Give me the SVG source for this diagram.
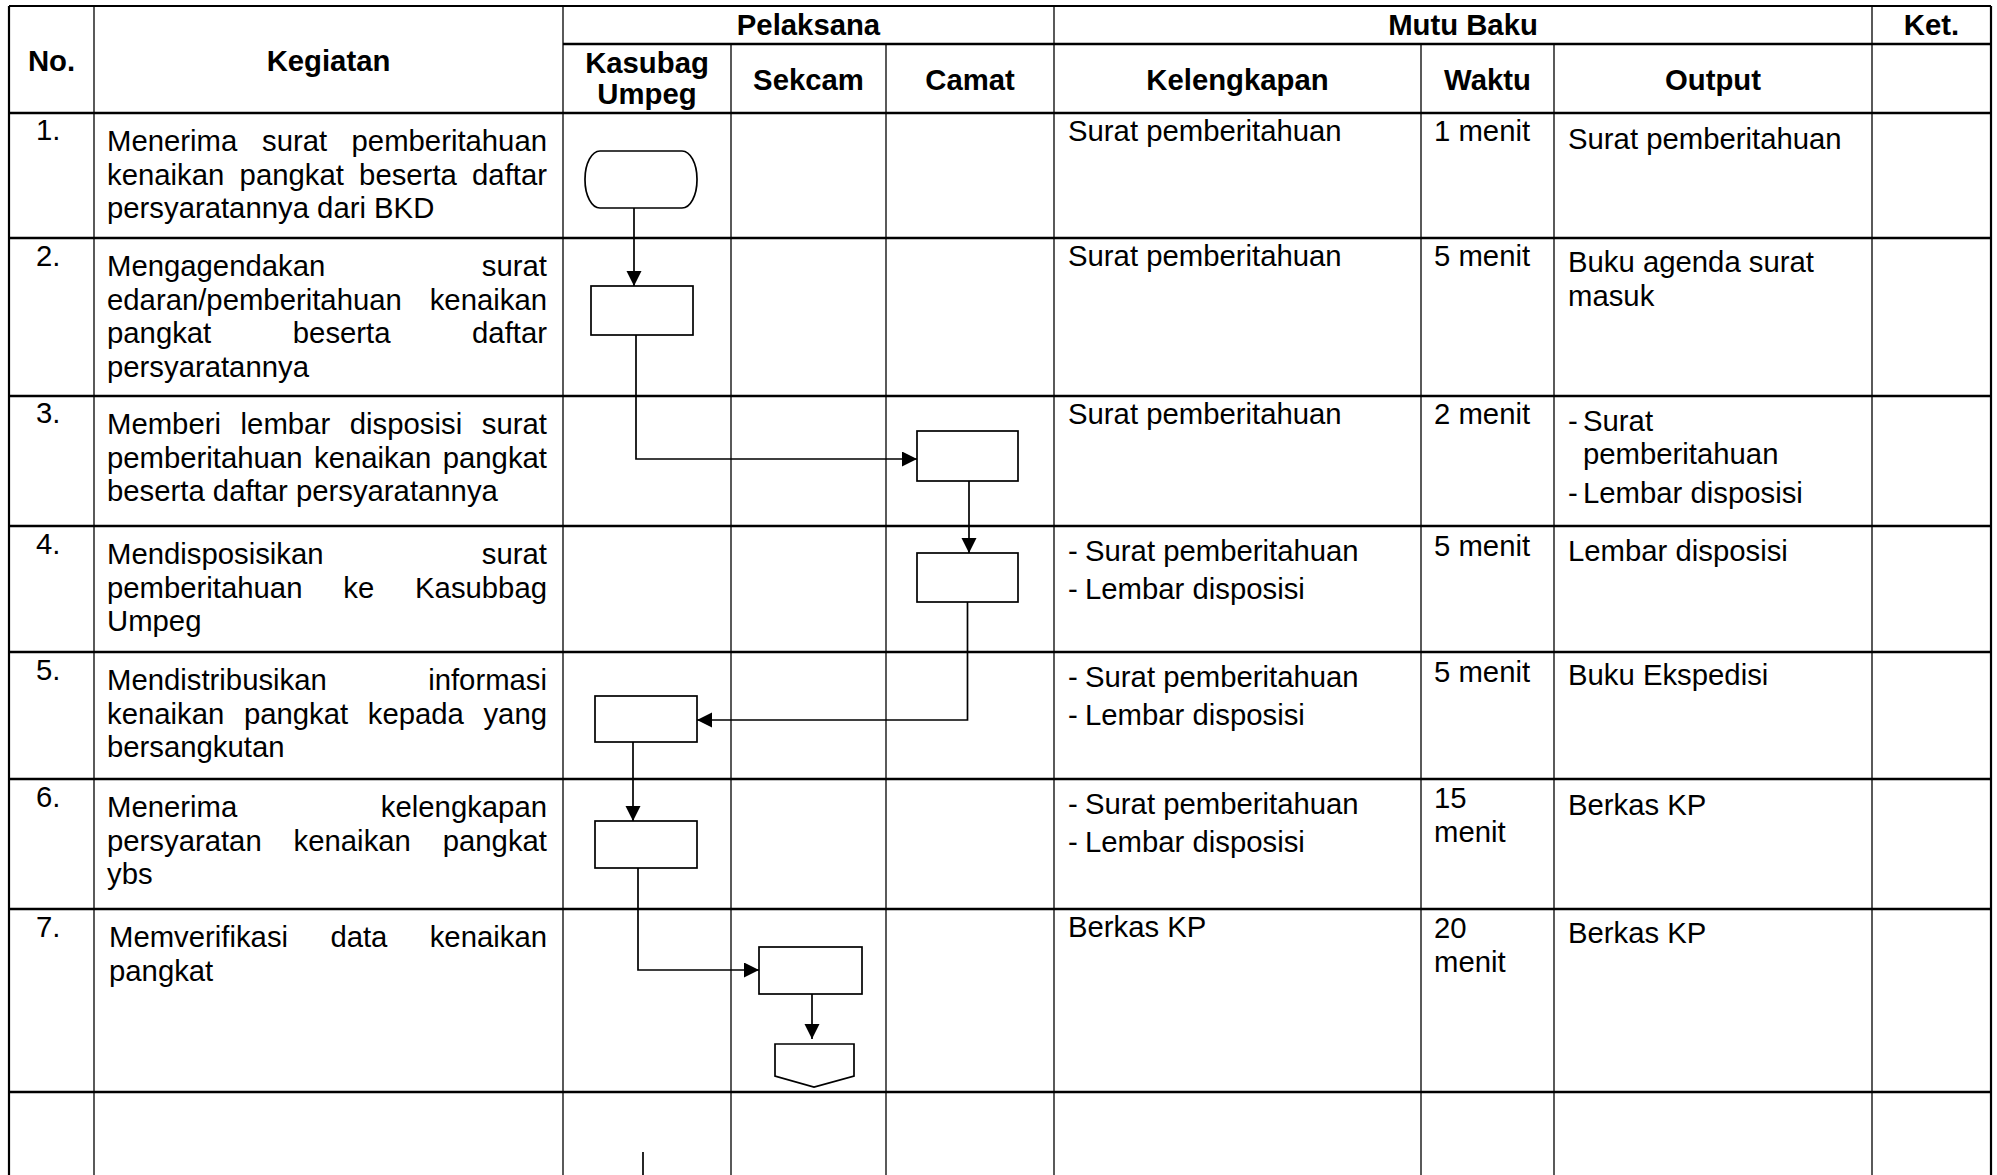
<svg xmlns="http://www.w3.org/2000/svg" width="1997" height="1175" viewBox="0 0 1997 1175">
<style>
.t{font-family:"Liberation Sans",Arial,sans-serif;font-size:29.3px;fill:#000}
.h{font-family:"Liberation Sans",Arial,sans-serif;font-size:29.3px;font-weight:bold;fill:#000;text-anchor:middle}
.gh{stroke:#000;stroke-width:2.6;fill:none}
.gv{stroke:#000;stroke-width:1.3;fill:none}
.go{stroke:#000;stroke-width:2.2;fill:none}
.shape{fill:#fff;stroke:#000;stroke-width:1.7}
.con{fill:none;stroke:#000;stroke-width:1.7}
</style>
<defs>
<marker id="ah" markerUnits="userSpaceOnUse" markerWidth="16" markerHeight="16" refX="15" refY="7.5" orient="auto">
<path d="M0,0 L15,7.5 L0,15 z" fill="#000"/>
</marker>
</defs>
<rect width="1997" height="1175" fill="#fff"/>
<g id="grid">
<line class="go" x1="9" y1="6" x2="1991" y2="6"/>
<line class="go" x1="9" y1="6" x2="9" y2="1175"/>
<line class="go" x1="1991" y1="6" x2="1991" y2="1175"/>
<line class="gh" x1="563" y1="44" x2="1991" y2="44"/>
<line class="gh" x1="9" y1="113" x2="1991" y2="113"/>
<line class="gh" x1="9" y1="238" x2="1991" y2="238"/>
<line class="gh" x1="9" y1="396" x2="1991" y2="396"/>
<line class="gh" x1="9" y1="526" x2="1991" y2="526"/>
<line class="gh" x1="9" y1="652" x2="1991" y2="652"/>
<line class="gh" x1="9" y1="779" x2="1991" y2="779"/>
<line class="gh" x1="9" y1="909" x2="1991" y2="909"/>
<line class="gh" x1="9" y1="1092" x2="1991" y2="1092"/>
<line class="gv" x1="94" y1="6" x2="94" y2="1175"/>
<line class="gv" x1="563" y1="6" x2="563" y2="1175"/>
<line class="gv" x1="1054" y1="6" x2="1054" y2="1175"/>
<line class="gv" x1="1872" y1="6" x2="1872" y2="1175"/>
<line class="gv" x1="731" y1="44" x2="731" y2="1175"/>
<line class="gv" x1="886" y1="44" x2="886" y2="1175"/>
<line class="gv" x1="1421" y1="44" x2="1421" y2="1175"/>
<line class="gv" x1="1554" y1="44" x2="1554" y2="1175"/>
</g>
<g id="header">
<text class="h" x="51.5" y="71">No.</text>
<text class="h" x="328.5" y="71">Kegiatan</text>
<text class="h" x="808.5" y="35">Pelaksana</text>
<text class="h" x="1463" y="35">Mutu Baku</text>
<text class="h" x="1931.5" y="35">Ket.</text>
<text class="h" x="647" y="73">Kasubag</text>
<text class="h" x="647" y="104">Umpeg</text>
<text class="h" x="808.5" y="90">Sekcam</text>
<text class="h" x="970" y="90">Camat</text>
<text class="h" x="1237.5" y="90">Kelengkapan</text>
<text class="h" x="1487.5" y="90">Waktu</text>
<text class="h" x="1713" y="90">Output</text>
</g>
<g id="numbers" class="t">
<text x="36" y="140">1.</text>
<text x="36" y="266">2.</text>
<text x="36" y="423">3.</text>
<text x="36" y="554">4.</text>
<text x="36" y="680">5.</text>
<text x="36" y="807">6.</text>
<text x="36" y="937">7.</text>
</g>
<g id="kegiatan" class="t">
<text y="151"><tspan x="107">Menerima</tspan><tspan x="262">surat</tspan><tspan x="547" text-anchor="end">pemberitahuan</tspan></text>
<text y="184.7"><tspan x="107">kenaikan</tspan><tspan x="239.6">pangkat</tspan><tspan x="359.1">beserta</tspan><tspan x="547" text-anchor="end">daftar</tspan></text>
<text x="107" y="218.4">persyaratannya dari BKD</text>

<text y="276"><tspan x="107">Mengagendakan</tspan><tspan x="547" text-anchor="end">surat</tspan></text>
<text y="309.7"><tspan x="107">edaran/pemberitahuan</tspan><tspan x="547" text-anchor="end">kenaikan</tspan></text>
<text y="343.4"><tspan x="107">pangkat</tspan><tspan x="292.8">beserta</tspan><tspan x="547" text-anchor="end">daftar</tspan></text>
<text x="107" y="377.1">persyaratannya</text>

<text y="434"><tspan x="107">Memberi</tspan><tspan x="240.6">lembar</tspan><tspan x="349.8">disposisi</tspan><tspan x="547" text-anchor="end">surat</tspan></text>
<text y="467.7"><tspan x="107">pemberitahuan</tspan><tspan x="314">kenaikan</tspan><tspan x="547" text-anchor="end">pangkat</tspan></text>
<text x="107" y="501.4">beserta daftar persyaratannya</text>

<text y="564"><tspan x="107">Mendisposisikan</tspan><tspan x="547" text-anchor="end">surat</tspan></text>
<text y="597.7"><tspan x="107">pemberitahuan</tspan><tspan x="343.3">ke</tspan><tspan x="547" text-anchor="end">Kasubbag</tspan></text>
<text x="107" y="631.4">Umpeg</text>

<text y="690"><tspan x="107">Mendistribusikan</tspan><tspan x="547" text-anchor="end">informasi</tspan></text>
<text y="723.7"><tspan x="107">kenaikan</tspan><tspan x="243.9">pangkat</tspan><tspan x="367.8">kepada</tspan><tspan x="547" text-anchor="end">yang</tspan></text>
<text x="107" y="757.4">bersangkutan</text>

<text y="817"><tspan x="107">Menerima</tspan><tspan x="547" text-anchor="end">kelengkapan</tspan></text>
<text y="850.7"><tspan x="107">persyaratan</tspan><tspan x="293.6">kenaikan</tspan><tspan x="547" text-anchor="end">pangkat</tspan></text>
<text x="107" y="884.4">ybs</text>

<text y="947"><tspan x="109">Memverifikasi</tspan><tspan x="330.4">data</tspan><tspan x="547" text-anchor="end">kenaikan</tspan></text>
<text x="109" y="980.7">pangkat</text>
</g>
<g id="kelengkapan" class="t">
<text x="1068" y="141">Surat pemberitahuan</text>
<text x="1068" y="266">Surat pemberitahuan</text>
<text x="1068" y="424">Surat pemberitahuan</text>
<text y="560.5"><tspan x="1068">-</tspan><tspan x="1085">Surat pemberitahuan</tspan></text>
<text y="598.5"><tspan x="1068">-</tspan><tspan x="1085">Lembar disposisi</tspan></text>
<text y="686.5"><tspan x="1068">-</tspan><tspan x="1085">Surat pemberitahuan</tspan></text>
<text y="724.5"><tspan x="1068">-</tspan><tspan x="1085">Lembar disposisi</tspan></text>
<text y="813.5"><tspan x="1068">-</tspan><tspan x="1085">Surat pemberitahuan</tspan></text>
<text y="851.5"><tspan x="1068">-</tspan><tspan x="1085">Lembar disposisi</tspan></text>
<text x="1068" y="937">Berkas KP</text>
</g>
<g id="waktu" class="t">
<text x="1434" y="141">1 menit</text>
<text x="1434" y="266">5 menit</text>
<text x="1434" y="424">2 menit</text>
<text x="1434" y="555.5">5 menit</text>
<text x="1434" y="681.5">5 menit</text>
<text x="1434" y="808">15</text>
<text x="1434" y="842">menit</text>
<text x="1434" y="938">20</text>
<text x="1434" y="972">menit</text>
</g>
<g id="output" class="t">
<text x="1568" y="148.5">Surat pemberitahuan</text>
<text x="1568" y="272">Buku agenda surat</text>
<text x="1568" y="305.7">masuk</text>
<text y="430.6"><tspan x="1568">-</tspan><tspan x="1583">Surat</tspan></text>
<text x="1583" y="463.7">pemberitahuan</text>
<text y="503"><tspan x="1568">-</tspan><tspan x="1583">Lembar disposisi</tspan></text>
<text x="1568" y="560.5">Lembar disposisi</text>
<text x="1568" y="685">Buku Ekspedisi</text>
<text x="1568" y="814.5">Berkas KP</text>
<text x="1568" y="943">Berkas KP</text>
</g>
<g id="connectors">
<path class="con" d="M634,208 V286" marker-end="url(#ah)"/>
<path class="con" d="M636,335 V459 H917" marker-end="url(#ah)"/>
<path class="con" d="M969,481 V553" marker-end="url(#ah)"/>
<path class="con" d="M967.5,602 V720 H697" marker-end="url(#ah)"/>
<path class="con" d="M633,742 V821" marker-end="url(#ah)"/>
<path class="con" d="M638,868 V970 H759" marker-end="url(#ah)"/>
<path class="con" d="M812,994 V1039" marker-end="url(#ah)"/>
<path class="con" d="M643,1152 V1175"/>
</g>
<g id="n1-start"><rect class="shape" x="585" y="151" width="112" height="57" rx="15" ry="28"/></g>
<g id="n2"><rect class="shape" x="591" y="286" width="102" height="49"/></g>
<g id="n3"><rect class="shape" x="917" y="431" width="101" height="50"/></g>
<g id="n4"><rect class="shape" x="917" y="553" width="101" height="49"/></g>
<g id="n5"><rect class="shape" x="595" y="696" width="102" height="46"/></g>
<g id="n6"><rect class="shape" x="595" y="821" width="102" height="47"/></g>
<g id="n7"><rect class="shape" x="759" y="947" width="103" height="47"/></g>
<g id="n8-offpage"><path class="shape" d="M775,1044 H854 V1076 L814,1087 L775,1076 Z"/></g>
</svg>
